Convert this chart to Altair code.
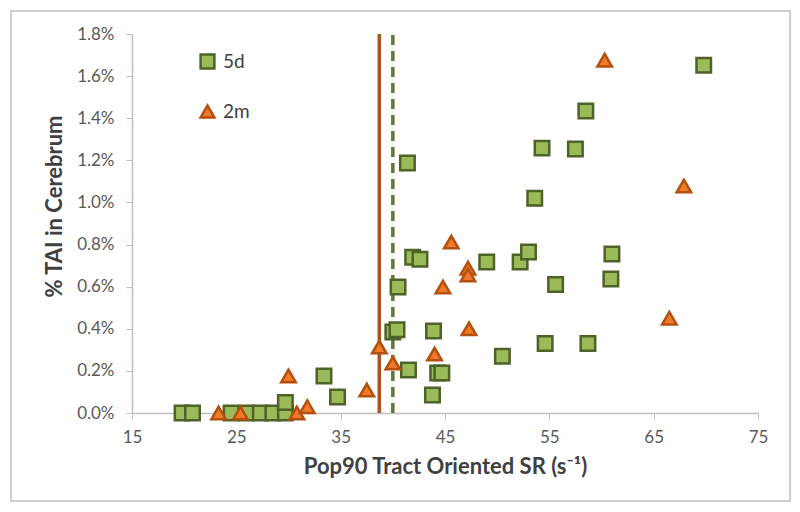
import altair as alt
import pandas as pd

# 5d series (squares)
d5_x = [19.8, 20.8, 24.5, 26.0, 27.3, 28.5, 29.7, 29.7, 33.4, 34.7, 40.0, 40.4, 40.5, 41.4,
        41.5, 41.9, 42.6, 43.8, 43.9, 44.3, 44.7, 49.0, 50.5, 52.2, 53.0, 53.6, 54.3, 54.6,
        55.6, 57.5, 58.5, 58.7, 60.9, 61.0, 69.8]
d5_y = [0.0, 0.0, 0.0, 0.0, 0.0, 0.0, 0.0, 0.05, 0.176, 0.076, 0.385, 0.395, 0.598, 1.187,
        0.204, 0.74, 0.73, 0.085, 0.389, 0.19, 0.19, 0.717, 0.27, 0.717, 0.765, 1.02, 1.258, 0.33,
        0.61, 1.254, 1.434, 0.33, 0.636, 0.755, 1.652]

# 2m series (triangles)
m2_x = [23.3, 25.4, 30.0, 30.8, 31.8, 37.5, 38.7, 40.0, 44.0, 44.8, 45.6, 47.2, 47.2, 47.3,
        60.3, 66.5, 67.9]
m2_y = [0.0, 0.0, 0.176, 0.0, 0.03, 0.109, 0.313, 0.237, 0.28, 0.598, 0.812, 0.688, 0.655, 0.40,
        1.676, 0.45, 1.078]

# threshold lines
line_series = ["2m", "5d"]
line_x = [38.7, 40.0]

x_ticks = [15, 25, 35, 45, 55, 65, 75]
y_ticks = [0.0, 0.2, 0.4, 0.6, 0.8, 1.0, 1.2, 1.4, 1.6, 1.8]

series = ["5d", "2m"]
fills = ["#9BBB59", "#F07A2A"]
strokes = ["#4F6228", "#B4500F"]
shapes = ["square", "triangle-up"]

W, H = 626, 379
FONT = "Lato"

df = pd.DataFrame({
    "x": d5_x + m2_x,
    "y": d5_y + m2_y,
    "series": ["5d"] * len(d5_x) + ["2m"] * len(m2_x),
})
lines = pd.DataFrame({"x": line_x, "series": line_series, "y0": [0.0, 0.0], "y1": [1.8, 1.8]})

xscale = alt.Scale(domain=[15, 75], nice=False, zero=False)
yscale = alt.Scale(domain=[0, 1.8], nice=False)

xaxis = alt.Axis(values=x_ticks, title="Pop90 Tract Oriented SR (s⁻¹)", grid=False,
                 domainColor="#BFBFBF", tickColor="#BFBFBF", tickSize=6, domainWidth=1.5,
                 labelColor="#595959", labelFontSize=17, labelFont=FONT, labelPadding=10,
                 labelFlush=False,
                 titleFont=FONT, titleFontSize=22, titleFontWeight="bold", titleColor="#404040",
                 titlePadding=11)
yaxis = alt.Axis(values=y_ticks, title="% TAI in Cerebrum", grid=False,
                 labelExpr="format(datum.value, '.1f') + '%'",
                 domainColor="#BFBFBF", tickColor="#BFBFBF", tickSize=6, domainWidth=1.5,
                 labelColor="#595959", labelFontSize=17, labelFont=FONT, labelPadding=12,
                 labelFlush=False,
                 titleFont=FONT, titleFontSize=22, titleFontWeight="bold", titleColor="#404040",
                 titlePadding=10, titleY=172)

frame = alt.Chart(pd.DataFrame({"k": [0]})).mark_rect(
    fill="transparent", stroke="#BFBFBF", strokeWidth=1.5
).encode(x=alt.value(-121), x2=alt.value(658), y=alt.value(-23), y2=alt.value(467))

rule_2m = alt.Chart(lines[lines.series == "2m"]).mark_rule(color="#A8541C", strokeWidth=3.5).encode(
    x=alt.X("x:Q", scale=xscale, axis=xaxis),
    y=alt.Y("y0:Q", scale=yscale, axis=yaxis),
    y2="y1:Q",
)
rule_5d = alt.Chart(lines[lines.series == "5d"]).mark_rule(
    color="#5A7A2E", strokeWidth=3.5, strokeDash=[10, 6]
).encode(
    x=alt.X("x:Q", scale=xscale),
    y=alt.Y("y0:Q", scale=yscale),
    y2="y1:Q",
)

legend = alt.Legend(title=None, orient="none", legendX=66, legendY=18, direction="vertical",
                    labelFont=FONT, labelFontSize=19, labelColor="#404040", rowPadding=26,
                    symbolSize=190, symbolStrokeWidth=2.5, labelOffset=6)

pts = alt.Chart(df).mark_point(filled=True, opacity=1, strokeWidth=2.5, size=210).encode(
    x=alt.X("x:Q", scale=xscale),
    y=alt.Y("y:Q", scale=yscale),
    fill=alt.Fill("series:N", scale=alt.Scale(domain=series, range=fills), legend=legend),
    stroke=alt.Stroke("series:N", scale=alt.Scale(domain=series, range=strokes), legend=legend),
    shape=alt.Shape("series:N", scale=alt.Scale(domain=series, range=shapes), legend=legend),
    order=alt.Order("series:N", sort="descending"),
)

chart = alt.layer(frame, rule_2m, rule_5d, pts).properties(
    width=W, height=H,
    autosize=alt.AutoSizeParams(type="none"),
    padding={"left": 124, "top": 26, "right": 34, "bottom": 91},
    background="white",
).configure_view(stroke=None)

chart.save("out.html", embed_options={"renderer": "svg", "actions": False})
